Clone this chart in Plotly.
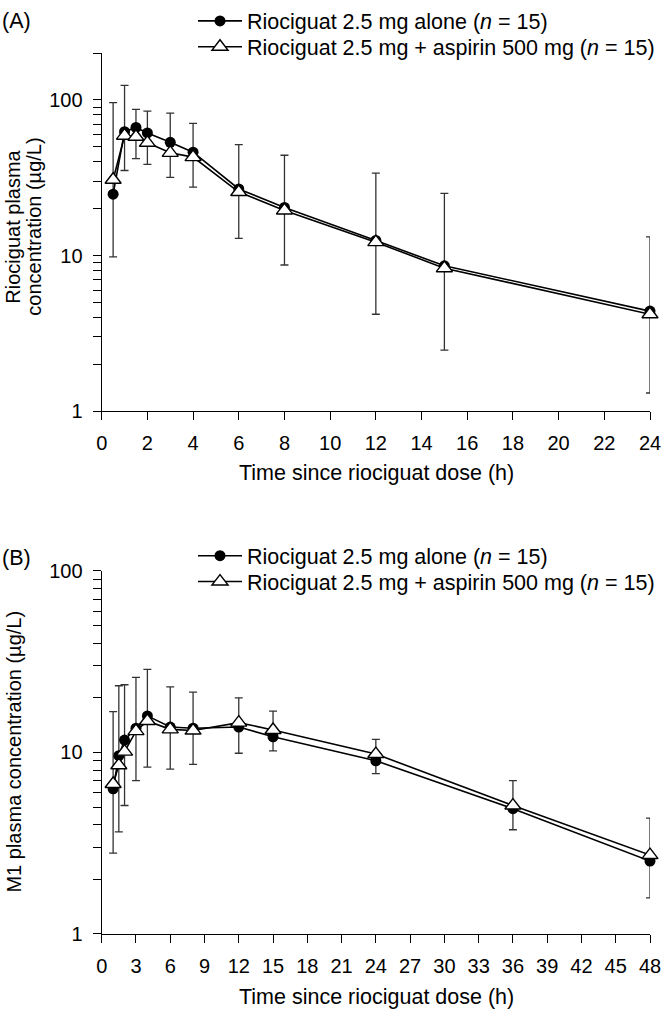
import numpy as np
import plotly.graph_objects as go

# ---------------- data ----------------
A_time = [0.5, 1, 1.5, 2, 3, 4, 6, 8, 12, 15, 24]
A_alone = [24.8, 62.5, 66.5, 61.3, 53.4, 46.1, 26.8, 20.4, 12.5, 8.6, 4.4]
A_aspirin = [30.7, 58.9, 58.0, 53.0, 45.7, 42.9, 25.6, 19.5, 12.2, 8.3, 4.2]
A_upper = [96.0, 124.0, 87.0, 84.7, 82.3, 70.6, 51.6, 44.1, 33.9, 25.1, 13.2]
A_lower = [9.8, 35.2, 41.9, 38.5, 31.8, 27.5, 12.9, 8.7, 4.2, 2.47, 1.31]

B_time = [1, 1.5, 2, 3, 4, 6, 8, 12, 15, 24, 36, 48]
B_alone = [6.3, 9.6, 11.7, 13.6, 15.9, 13.8, 13.6, 13.8, 12.2, 9.0, 4.9, 2.52]
B_aspirin = [6.7, 8.5, 10.1, 13.1, 14.9, 13.4, 13.2, 14.6, 13.3, 9.8, 5.1, 2.72]
B_upper = [16.8, 23.3, 23.6, 25.9, 28.7, 23.0, 21.5, 20.0, 16.9, 11.8, 7.0, 4.35]
B_lower = [2.79, 3.65, 5.1, 7.0, 8.3, 8.1, 8.6, 9.9, 10.2, 7.65, 3.75, 1.58]

A_xticks = list(range(0, 25, 2))
B_xticks = list(range(0, 49, 3))
Y_major = [1, 10, 100]
A_minor = [2, 3, 4, 5, 6, 7, 8, 9, 20, 30, 40, 50, 60, 70, 80, 90, 200]
B_minor = [2, 3, 4, 5, 6, 7, 8, 9, 20, 30, 40, 50, 60, 70, 80, 90]

NAME_ALONE = "Riociguat 2.5 mg alone (<i>n</i> = 15)"
NAME_ASP = "Riociguat 2.5 mg + aspirin 500 mg (<i>n</i> = 15)"

# ---------------- layout helpers ----------------
W, H = 666, 1010
FONT = "Liberation Sans, Arial, Helvetica, sans-serif"
FS_TICK = 20
FS_TEXT = 21.5
FS_YTITLE = 20


def fx(px):
    return px / W


def fy(py):
    return 1 - py / H


fig = go.Figure()


def add_panel(t, alone, asp, upper, lower, xa, ya, leg1, leg2):
    alone = np.array(alone, dtype=float)
    up = np.array(upper, dtype=float) - alone
    lo = alone - np.array(lower, dtype=float)
    fig.add_trace(go.Scatter(
        x=t, y=alone, mode="lines+markers", name=NAME_ALONE,
        xaxis=xa, yaxis=ya, legend=leg1,
        line=dict(color="black", width=1.6),
        marker=dict(symbol="circle", size=11, color="black"),
        error_y=dict(type="data", symmetric=False, array=up, arrayminus=lo,
                     color="#333333", thickness=1.3, width=4),
        cliponaxis=False,
    ))
    fig.add_trace(go.Scatter(
        x=t, y=asp, mode="lines+markers", name=NAME_ASP,
        xaxis=xa, yaxis=ya, legend=leg2,
        line=dict(color="black", width=1.6),
        marker=dict(symbol="triangle-up", size=14, color="white",
                    line=dict(color="black", width=1.4)),
        cliponaxis=False,
    ))


add_panel(A_time, A_alone, A_aspirin, A_upper, A_lower, "x", "y",
          "legend", "legend2")
add_panel(B_time, B_alone, B_aspirin, B_upper, B_lower, "x2", "y2",
          "legend3", "legend4")

axis_common = dict(
    showline=True, linecolor="black", linewidth=1.3,
    ticks="outside", ticklen=8, tickwidth=1.3, tickcolor="black",
    showgrid=False, zeroline=False, automargin=False,
    tickfont=dict(family=FONT, size=FS_TICK, color="black"),
)

xdom = [fx(101.7), fx(650)]


def legend_at(ypx):
    return dict(x=fx(193), y=fy(ypx), xanchor="left", yanchor="middle",
                bgcolor="rgba(0,0,0,0)", borderwidth=0, itemwidth=44,
                font=dict(family=FONT, size=FS_TEXT, color="black"))


fig.update_layout(
    width=W, height=H,
    margin=dict(l=0, r=0, t=0, b=0),
    paper_bgcolor="white", plot_bgcolor="white",
    font=dict(family=FONT, size=FS_TEXT, color="black"),
    xaxis=dict(domain=xdom, anchor="y", range=[0, 24], tickvals=A_xticks,
               ticklabelstandoff=6, **axis_common),
    yaxis=dict(domain=[fy(407.7), fy(47.3)], anchor="x", type="log",
               range=[0, np.log10(200)], tickvals=Y_major,
               ticktext=[str(v) for v in Y_major], ticklabelstandoff=6,
               minor=dict(tickvals=A_minor, ticks="outside", ticklen=8,
                          tickwidth=1.3, tickcolor="black", showgrid=False),
               **axis_common),
    xaxis2=dict(domain=xdom, anchor="y2", range=[0, 48], tickvals=B_xticks,
                ticklabelstandoff=6, **axis_common),
    yaxis2=dict(domain=[fy(933.5), fy(568.3)], anchor="x2", type="log",
                range=[0, 2], tickvals=Y_major,
                ticktext=[str(v) for v in Y_major], ticklabelstandoff=6,
                minor=dict(tickvals=B_minor, ticks="outside", ticklen=8,
                           tickwidth=1.3, tickcolor="black", showgrid=False),
                **axis_common),
    legend=legend_at(15),
    legend2=legend_at(41),
    legend3=legend_at(553),
    legend4=legend_at(579),
    showlegend=True,
)

annotations = [
    dict(text="(A)", x=fx(0), y=fy(15), xanchor="left", yanchor="middle"),
    dict(text="(B)", x=fx(0), y=fy(555), xanchor="left", yanchor="middle"),
    dict(text="Time since riociguat dose (h)", x=fx(376), y=fy(470),
         xanchor="center", yanchor="middle"),
    dict(text="Time since riociguat dose (h)", x=fx(376), y=fy(997),
         xanchor="center", yanchor="middle"),
    dict(text="Riociguat plasma", x=fx(13), y=fy(222),
         xanchor="center", yanchor="middle", textangle=-90,
         font=dict(family=FONT, size=FS_YTITLE, color="black")),
    dict(text="concentration (µg/L)", x=fx(34), y=fy(222),
         xanchor="center", yanchor="middle", textangle=-90,
         font=dict(family=FONT, size=FS_YTITLE, color="black")),
    dict(text="M1 plasma concentration (µg/L)", x=fx(14), y=fy(750),
         xanchor="center", yanchor="middle", textangle=-90,
         font=dict(family=FONT, size=FS_YTITLE, color="black")),
]
for a in annotations:
    a.setdefault("font", dict(family=FONT, size=FS_TEXT, color="black"))
    fig.add_annotation(xref="paper", yref="paper", showarrow=False, **a)

fig.write_html(
    "out.html",
    config={"displayModeBar": False},
    post_script="document.body.style.margin='0';"
                "document.body.style.padding='0';"
                "document.body.style.overflow='hidden';",
)
